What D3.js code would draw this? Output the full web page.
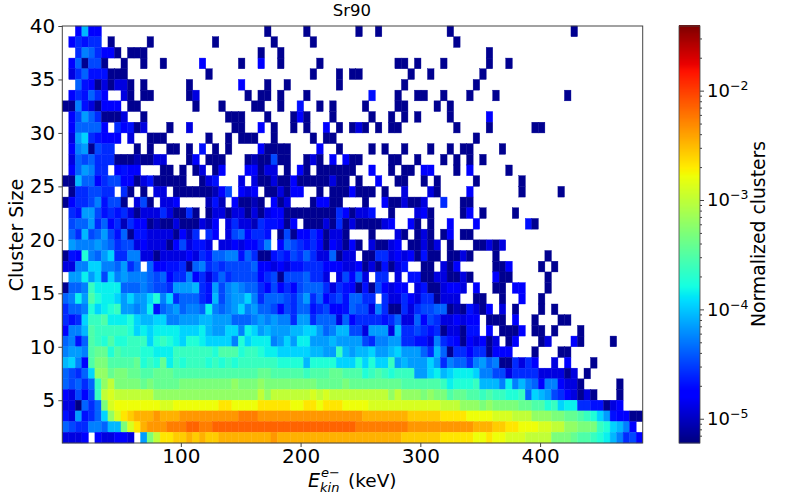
<!DOCTYPE html>
<html><head><meta charset="utf-8">
<script src="https://cdn.jsdelivr.net/npm/d3@7/dist/d3.min.js"></script>
<style>html,body{margin:0;background:#fff}svg{display:block}text{font-family:"DejaVu Sans",sans-serif;fill:#000}</style>
</head><body><svg id="c" width="796" height="504"></svg>
<script>
// Each row runs from cluster size 40 (top) to 1 (bottom). One character per energy bin:
// '.' = no clusters, otherwise a base-36 level on the log colour axis. Spaces are only for reading.
const lowEnergyRows = [
"..4b4 4.... ..... ..... ..... .....",
".4656 6.1.. ...1. ..... ...1. .....",
"..698 6441. 111.. ..... ..... .....",
".481771..1..1..1.....4.....1..",
".368555111............1.......",
"..854131331.1......1.......4..",
".465864..31.11.....13.......1.",
"119531444.11........1...1....1",
".47a861113..1............111..",
".488884.64513...1..3......11..",
".3ac65444.3..111......1..1.111",
".49a1766...1.1..11.1.5.1.1....",
".3878666 111 2 11 33 ... 14 . 111 ... 12",
".48a966 . 4544 ... 11 . 1 . 13 . 14 ... 44",
"11b88 46774 4135 11111 .. 135 ... 3.3",
".166776 6 . 61 . 1 . 33 . 111111 247 . 434",
"1466795771 . 371 . 334 .... 252 . 4112",
".65aa 75656 31333 63116 1. 13313313",
".788a6 84626 44121 13111 324. 36332",
".86b78 a7581 55333 31426 .64. 37846",
".a999a 98677 34333 14735 53.3 34344",
"154e98 ac669 93313 33343 6588 99586",
"3399cc 998a6 8.844 55618 9676 77778",
".aadac 7c9a9 99878 46694 6368 67777",
"1889fd ddd88 89877 6aaab 65a7 9a988",
"89dage ddcac aace9 c6888 65b7 9aac9",
"6889ec defaa 9ad58 9a899 8d98 9ac9a",
"656cff gddde cbbcc 99aaa bbaa a8889",
"499bgf ffffe cdcdd ddccc dbaa cc9dc",
"8958gf egeef ffcef edcee dccc c9ecd",
"9aa9gh hegff feedd dffff ffeg ggeff",
"bc94gi igggg hefeh dfeff fefe fefff",
"8768cj jhiih hgghh hgggg gggg ggggg",
"87868f jkiii ihihh hhiii iiii ijiii",
"43747f klkkk kkkjj jjjjj jjjj jjjjj",
"330868 ilmmm mmmml lmmmm mmmn nmmmm",
"53a568 cjlno pppqp ppqqq qqqq qqrrr",
"876699 8bbil npqqq rrrss rrss sssss",
"3334.4 33443 .aikn noopo poop ppppp"
];
const midEnergyRows = [
".1... ..1.. ..... 1..1. ..... ....1",
"..1.. ...1. ..... ..... ..... .....",
"1..1. ..... ..... ..... ..... .....",
"4..1. ....1 ..... ..... .11.1 ...1.",
"..... ...1. ..1.1 1.... ...1. .1...",
".1..1 ..... ..1.. ..... ..1.. .....",
"11.1. ..1.. ..... ..5.. .1..1 1..1.",
"1..1. .5..1 .1... .1... .11.. ..1.1",
".1... 141.. .1... ..1.. 1.1.1 ....1",
"4.1.. 1.1.. 4.1.1 31.1. 11... .....",
"..1.. ...1. 11... ..... ..... .....",
"41111 ....4 ..1.. ..1.1 ..1.. .1..1",
"11711 ..131 .4.41 1.... 11..1 ...1.",
"133.1 .41.1 11111 ..4.. 1.11. 44...",
"11311 41111 1311. 1..4. .11.. 1.1..",
".1131 44..1 .1114 111.1 ..3.. .31..",
"1.413 ...14 411.. .1..4 11311 3..6.",
"13441 11111 11641 335.. 1...3 41...",
"65541 4.111 31613 11113 4..41 .1..4",
"65.17 14464 1331. ..1.. .31.1 31.14",
"69.48 76564 14314 1.311 34.11 313.1",
"11565 76863 38133 .1166 34341 511.1",
"44343 55666 44433 41315 135.. 11.31",
"46717 77866 3.374 83.66 .3.55 11331",
"64746 47888 63654 15174 344.3 51134",
"68887 68a68 46758 866.6 33643 66133",
"88747 68856 74458 77396 11636 77881",
"a9a99 6aa68 88384 66665 68338 47633",
"abaaa bbcca 89bb7 73aaa 3b667 65613",
"dd9ac addaa abaaa a7699 aa665 53965",
"eddcc cccbb aafba bbcaa bcaaa 86b81",
"fffee eebee eeccc ececc fabaa aca69",
"hhggg ggfgg ghhgg gefgf efffa acdbc",
"jiiii iiiih hhhih hhhhh hhggg gggfd",
"kjkkk kkklk lkkkk kkkkk jkjjj ijiig",
"nnnnn mmnnm nnnmm mmlll lllll lllkk",
"qqqqq qqqqq qqqqq qpppp pppoo ooonn",
"sssss sssss sssss rrrrr rrrqq qqqqq",
"ppqpp ppppp ppppp ppppp ppooo ooonn"
];
const highEnergyRows = [
"..... ..... ..... ...1. ..... ....",
"1.... ..... ..... ..... ..... ....",
"..... 1.... ..... ..... ..... ....",
"..... 1..1. ..... ..... ..... ....",
"....1 ..... ..... ..... ..... ....",
"...1. ..... ..... ..... ..... ....",
"..1.. .1... ..... ..1.. ..... ....",
"..... ..... ..... ..... ..... ....",
"..... 4.... ..... ..... ..... ....",
"1.... 1.... ..11. ..... ..... ....",
"...1. ..... ..... ..... ..... ....",
".11.. ..1.. ..... ..... ..... ....",
"1.1.1 ..... ..... ..... ..... ....",
"1.4.. ...1. ..... ..... ..... ....",
"...1. ..... 1.... ..... ..... ....",
"..4.. ..... 1.... .1... ..... ....",
".11.. ..... ..... ..... ..... ....",
".14.1 ....1 ..... ..... ..... ....",
"...4. ..... .51.. ..... ..... ....",
".11.. ..... ..... ..... ..... ....",
"...11 313.. ..... ..... ..... ....",
"131.. .1... ....1 ..... ..... ....",
"4.... .114. ...1. 1.... ..... ....",
"131.. .411. ....1 ..... ..... ....",
"43.4. .11.4 4...1 ..... ..... ....",
"3..11 ..1.. 4..1. ..... ..... ....",
"21531 4.3.1 ...1. 1.... ..... ....",
"4344. 111.4 ..1.. .11.. ..... ....",
"3155. 4.111 4.11. 1...1 ..... ....",
"41434 13.14 ...13 ...41 ....1 ....",
"66466 1444. ..1.. .11.. ..... ....",
"8869a 89116 364.. 3.4.. .1... ....",
"dddc9 97736 66633 3313. 1.... ....",
"eeefb bb9d9 b9849 94331 ..... 1...",
"hhggf gffee f8cba 76431 31... 1...",
"kjjji jiiii hhgge fcdd6 65513 4...",
"nnmmm mlllk kkjjj iihhg feca5 4411",
"qqqpp poonn mmmll kkjji iifec b94.",
"nnnmm nmmll lkkkk iiihg gfedb 9674"
];
const xTicks = [100, 200, 300, 400];
const yTicks = [5, 10, 15, 20, 25, 30, 35, 40];
const colorTicks = [1e-5, 1e-4, 1e-3, 1e-2];
const colorTickPowers = ["−5", "−4", "−3", "−2"];
const energyRange = [1, 485.7], sizeRange = [1, 40], colorRange = [6e-6, 3.9e-2];
const binCount = 89, levelSteps = 36;

const svg = d3.select("#c");
const x = d3.scaleLinear().domain(energyRange).range([62.3, 642.7]);
const y = d3.scaleLinear().domain(sizeRange).range([443, 26]);
const c = d3.scaleLog().domain(colorRange).range([443, 26]);
const t = d3.scaleLog().domain(colorRange).range([0, 1]);
const chan = (xs, ys) => d3.scaleLinear().domain(xs).range(ys).clamp(true);
const jr = chan([0, .35, .66, .89, 1], [0, 0, 1, 1, .5]);
const jg = chan([0, .125, .375, .64, .91, 1], [0, 0, 1, 1, 0, 0]);
const jb = chan([0, .11, .34, .65, 1], [.5, 1, 1, 0, 0]);
const jet = v => { const u = t(v); return d3.rgb(jr(u) * 255, jg(u) * 255, jb(u) * 255).formatHex(); };

const clean = (s, n) => s.replace(/\s/g, "").padEnd(n, ".").slice(0, n);
const binW = (energyRange[1] - energyRange[0]) / binCount;
const logMin = Math.log10(colorRange[0]), logSpan = Math.log10(colorRange[1]) - logMin;
// levels were read against the colour bar; this maps them to steps along it
const levelPos = d3.scaleLinear().domain([0, 1, 3, 19, 20, levelSteps]).range([0, .5, 3, 19, 21, levelSteps + 1]);
const cells = [];
lowEnergyRows.forEach((_, r) => {
  const line = clean(lowEnergyRows[r], 30) + clean(midEnergyRows[r], 30) + clean(highEnergyRows[r], 29);
  [...line].forEach((ch, i) => {
    if (ch === ".") return;
    const level = parseInt(ch, 36);
    cells.push({ e: energyRange[0] + i * binW, s: sizeRange[1] - r, v: Math.pow(10, logMin + logSpan * levelPos(level) / levelSteps) });
  });
});
svg.append("g").selectAll("rect").data(cells).join("rect")
  .attr("x", d => x(d.e)).attr("width", d => x(d.e + binW) - x(d.e))
  .attr("y", d => y(d.s)).attr("height", d => y(d.s - 1) - y(d.s))
  .attr("fill", d => jet(d.v)).attr("stroke", d => jet(d.v)).attr("stroke-width", .4);

const spine = "#444";
svg.append("rect").attr("x", x.range()[0]).attr("y", y.range()[1]).attr("width", x.range()[1] - x.range()[0])
  .attr("height", y.range()[0] - y.range()[1]).attr("fill", "none").attr("stroke", spine).attr("stroke-width", 1);

const styleAxis = g => { g.select(".domain").remove(); g.selectAll("line").attr("stroke", spine); g.selectAll("text").style("font-size", "20px").attr("fill", "#000"); };
svg.append("g").attr("transform", "translate(0,443)")
  .call(d3.axisBottom(x).tickValues(xTicks).tickSize(4).tickPadding(2)).call(styleAxis);
svg.append("g").attr("transform", "translate(62.3,0)")
  .call(d3.axisLeft(y).tickValues(yTicks).tickSize(4).tickPadding(3)).call(styleAxis);

svg.append("text").attr("x", 352).attr("y", 16).attr("text-anchor", "middle").style("font-size", "16.5px").text("Sr90");
svg.append("text").attr("transform", "translate(23,235) rotate(-90)").attr("text-anchor", "middle").style("font-size", "19px").text("Cluster Size");

const addLabel = (px, py, size, str, italic) => svg.append("text").attr("x", px).attr("y", py)
  .style("font-size", size + "px").attr("font-style", italic ? "italic" : "normal").text(str);
addLabel(308, 487, 19, "E", true);
addLabel(320, 492, 13, "kin", true);
addLabel(321, 477, 13, "e−", true);
addLabel(348, 487, 18.5, "(keV)", false);

// colour bar
const cbX = 679, cbW = 21;
const stops = d3.range(0, 418).map(i => c.invert(443 - i));
svg.append("g").selectAll("rect").data(stops).join("rect")
  .attr("x", cbX).attr("width", cbW).attr("y", d => c(d) - 1).attr("height", 1.4).attr("fill", d => jet(d));
svg.append("rect").attr("x", cbX).attr("y", 26).attr("width", cbW).attr("height", 417).attr("fill", "none").attr("stroke", spine).attr("stroke-width", .8);

const minor = d3.range(-6, -1).flatMap(p => d3.range(2, 10).map(m => m * Math.pow(10, p)))
  .filter(v => v > colorRange[0] && v < colorRange[1]);
svg.append("g").attr("transform", `translate(${cbX + cbW},0)`)
  .call(d3.axisRight(c).tickValues(minor).tickSize(2).tickFormat(""))
  .call(g => { g.select(".domain").remove(); g.selectAll("line").attr("stroke", spine); });
svg.append("g").attr("transform", `translate(${cbX + cbW},0)`)
  .call(d3.axisRight(c).tickValues(colorTicks).tickSize(4).tickPadding(3).tickFormat(""))
  .call(g => { g.select(".domain").remove(); g.selectAll("line").attr("stroke", spine); })
  .call(g => g.selectAll("text").each(function (d, i) {
    const s = d3.select(this).style("font-size", "18px").attr("fill", "#000");
    s.append("tspan").text("10");
    s.append("tspan").attr("dy", -7).style("font-size", "12.5px").text(colorTickPowers[i]);
  }));
svg.append("text").attr("transform", "translate(765,234) rotate(-90)").attr("text-anchor", "middle").style("font-size", "18.8px").text("Normalized clusters");
</script></body></html>
